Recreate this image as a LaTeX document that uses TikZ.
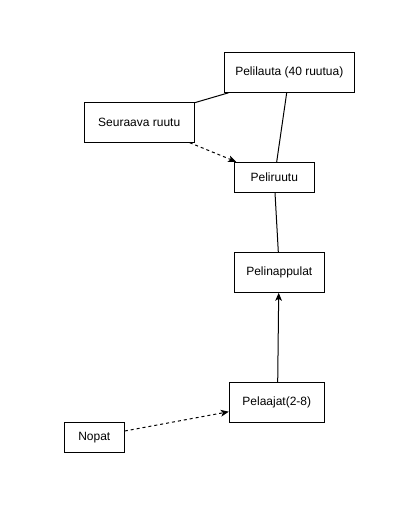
\documentclass[tikz,border=0pt]{standalone}
\usepackage{fontspec}
\setmainfont{Liberation Sans}
\usetikzlibrary{calc,arrows.meta}
\begin{document}
\begin{tikzpicture}[x=0.75pt,y=-0.75pt,
  box/.style={draw,line width=0.75pt,inner sep=0pt,font=\fontsize{9pt}{11pt}\selectfont},
  link/.style={line width=0.75pt},
  dep/.style={line width=0.75pt,dash pattern=on 2.25pt off 2.25pt},
  tip/.style={-{Stealth[length=6pt,width=5pt,inset=1.5pt]}}]
\fill[white] (0,0) rectangle (412,517);
\useasboundingbox (0,0) rectangle (412,517);
\node[box,minimum width=97.5pt,minimum height=30pt] (lauta) at (289.3,72.3) {Pelilauta (40 ruutua)};
\node[box,minimum width=82.5pt,minimum height=30pt] (seur) at (139.2,122.2) {Seuraava ruutu};
\node[box,minimum width=60pt,minimum height=22.5pt] (ruutu) at (274.3,177.3) {Peliruutu};
\node[box,minimum width=67.5pt,minimum height=30pt] (nap) at (279.3,272.3) {Pelinappulat};
\node[box,minimum width=71.25pt,minimum height=30pt] (pel) at (276.8,402.3) {Pelaajat(2-8)};
\node[box,minimum width=45pt,minimum height=22.5pt] (nop) at (94.3,437.3) {Nopat};
\draw[link] ($(seur.north east)+(0,1)$) -- ($(lauta.south west)+(4.7,0)$);
\draw[link] ($(lauta.south)+(-2.6,0)$) -- ($(ruutu.north)+(2.4,0)$);
\draw[link] ($(ruutu.south)+(0.7,0)$) -- ($(nap.north)+(-1,0)$);
\draw[dep,tip] ($(seur.south east)+(-5,0)$) -- ($(ruutu.north west)+(2.4,0)$);
\draw[link,tip] ($(pel.north)+(0.9,0)$) -- ($(nap.south)+(-0.6,0)$);
\draw[dep,tip] ($(nop.east)+(0,-6.3)$) -- ($(pel.west)+(0,9.4)$);
\end{tikzpicture}
\end{document}
